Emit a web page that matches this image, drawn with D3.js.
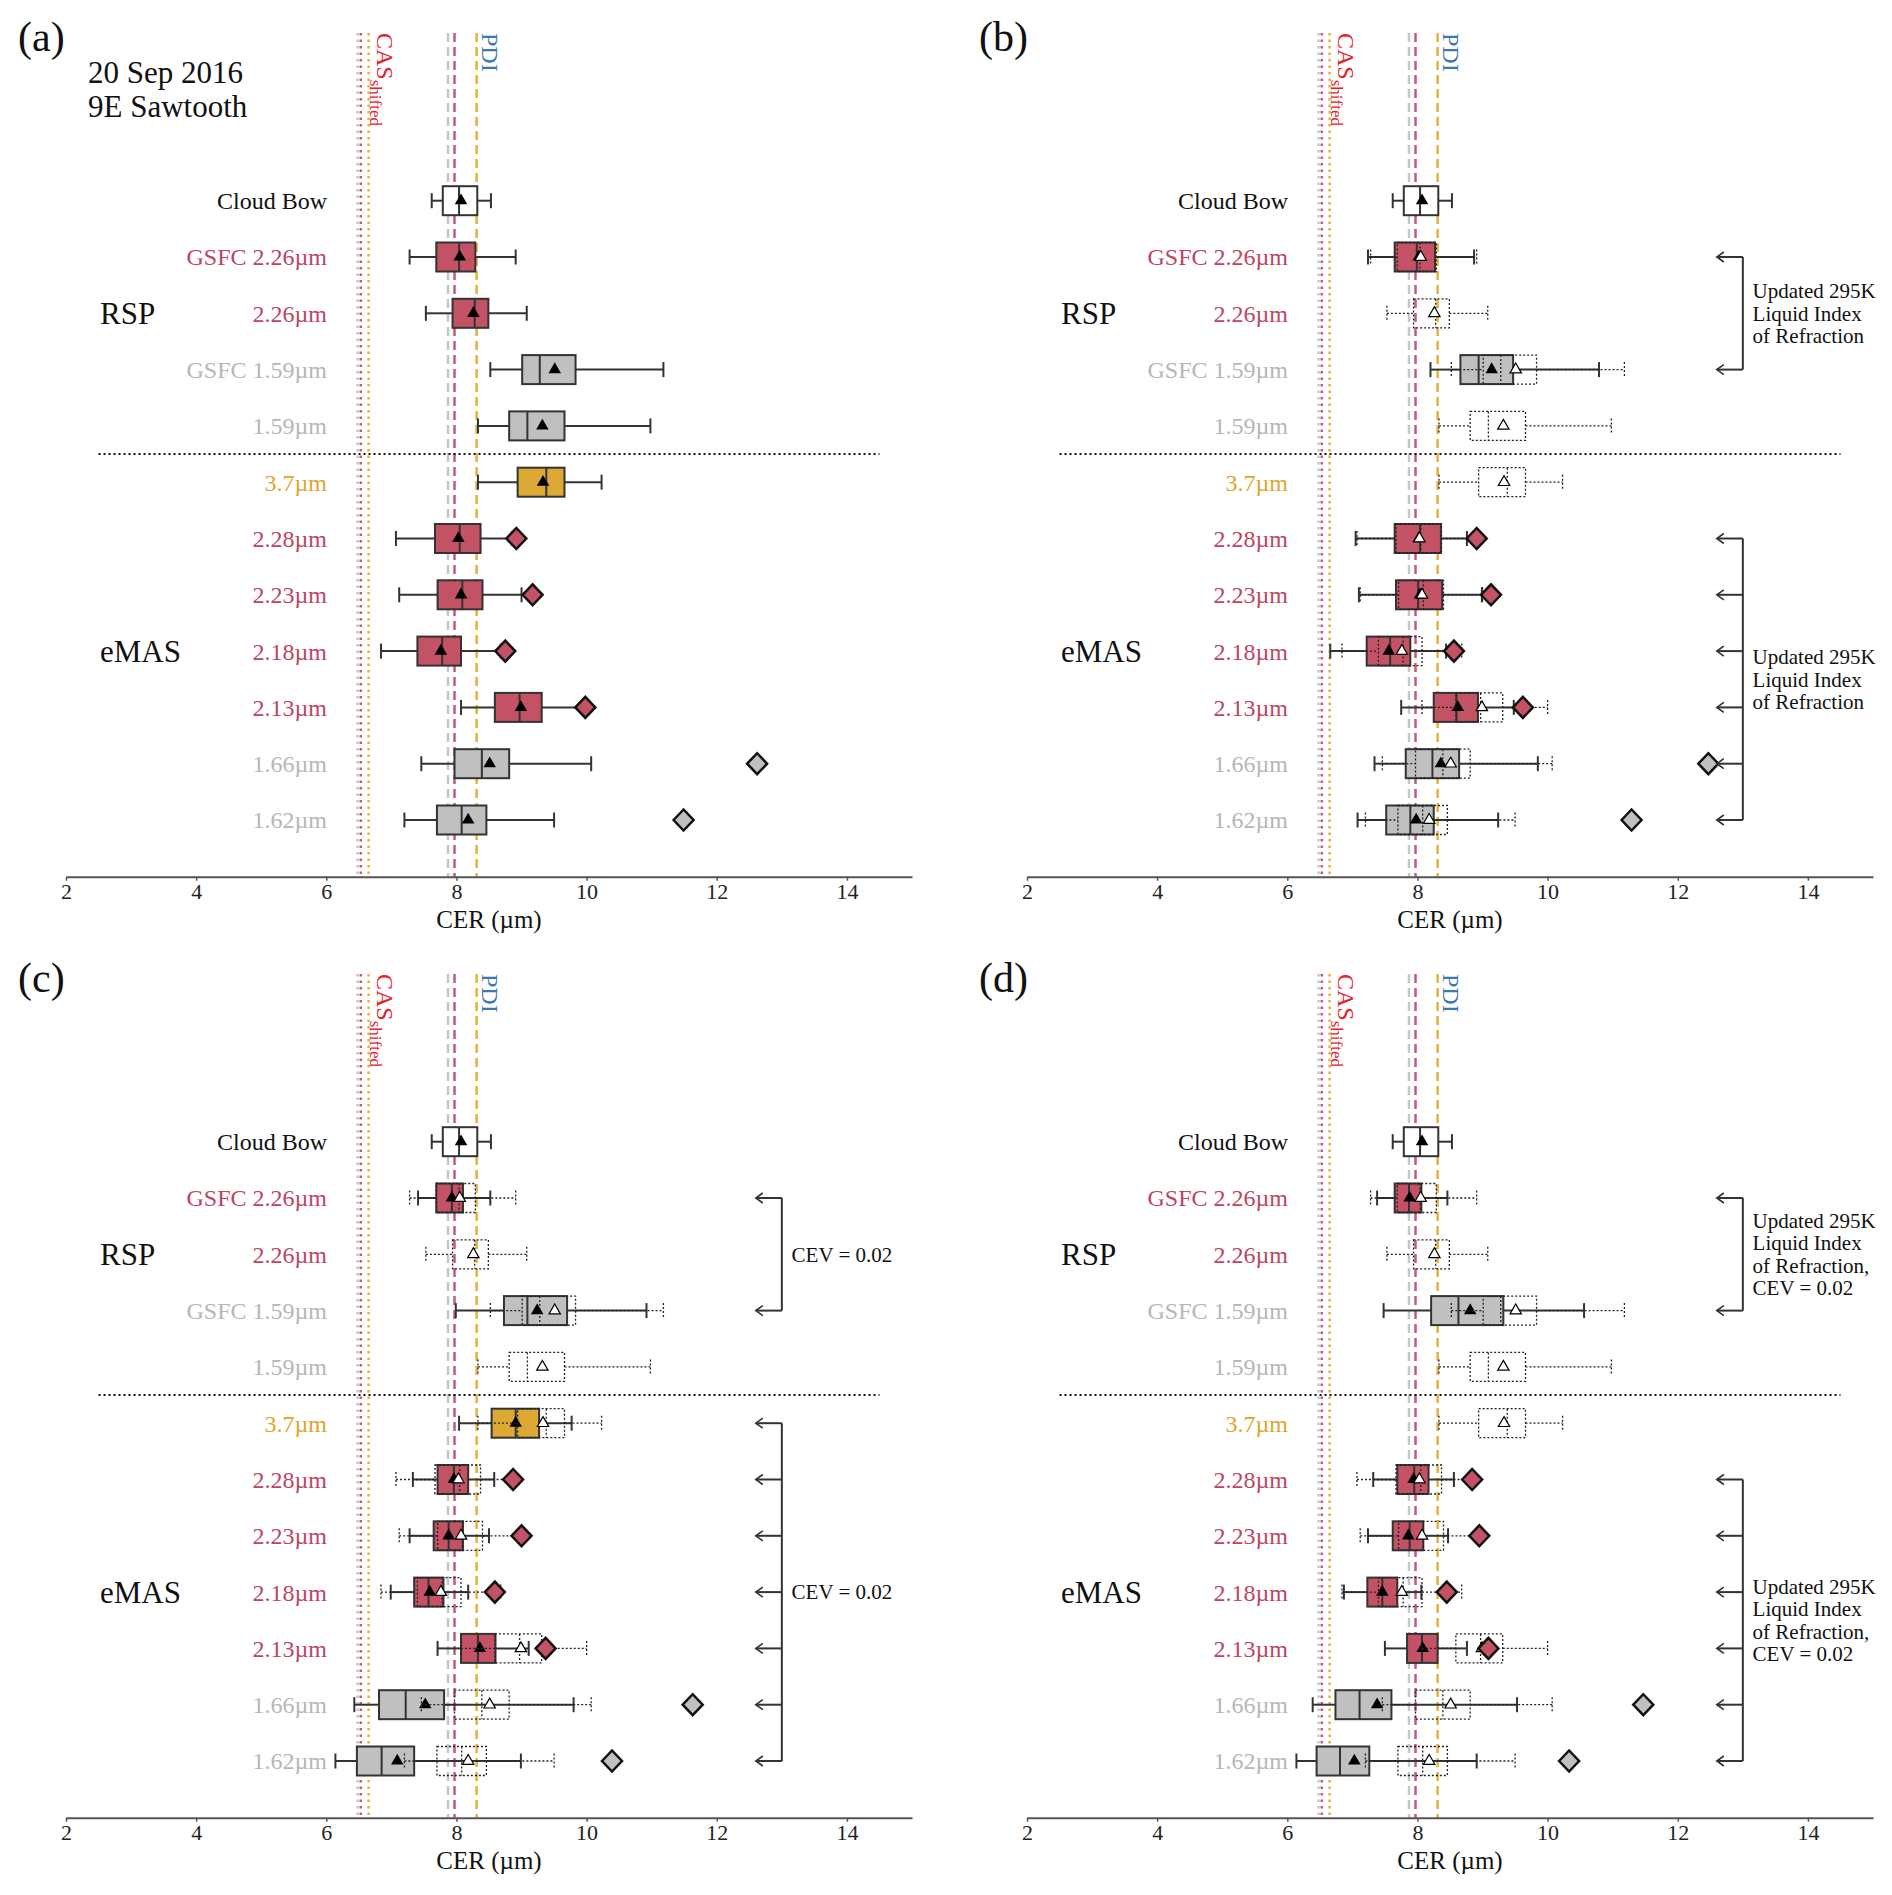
<!DOCTYPE html>
<html>
<head>
<meta charset="utf-8">
<script src="https://cdn.jsdelivr.net/npm/d3@7"></script>
<style>
  body { margin: 0; background: #fff; }
  text { font-family: "Liberation Serif", "Times New Roman", serif; }
</style>
</head>
<body>
<svg id="chart" width="1892" height="1895"></svg>
<script>
// rows, top to bottom
const rowLabels = ["Cloud Bow", "GSFC 2.26µm", "2.26µm", "GSFC 1.59µm", "1.59µm", "3.7µm",
  "2.28µm", "2.23µm", "2.18µm", "2.13µm", "1.66µm", "1.62µm"];
const rowKind = ["cb", "red", "red", "gray", "gray", "orange",
  "red", "red", "red", "red", "gray", "gray"];
const groupLabels = [{name: "RSP", row: 2}, {name: "eMAS", row: 8}];
const xTicks = [2, 4, 6, 8, 10, 12, 14];

// reference lines (CER, µm): gray / red / orange
const casLines = [6.48, 6.53, 6.65];
const pdiLines = [7.87, 7.97, 8.31];
const lineKinds = ["gray", "red", "orange"];

// [whisker low, q1, median, q3, whisker high, mean]
const statsA = [
  [7.62, 7.79, 8.04, 8.32, 8.53, 8.07],
  [7.28, 7.69, 8.04, 8.29, 8.91, 8.05],
  [7.53, 7.94, 8.28, 8.49, 9.08, 8.26],
  [8.52, 9.01, 9.28, 9.83, 11.18, 9.51],
  [8.33, 8.81, 9.09, 9.66, 10.98, 9.32],
  [8.33, 8.94, 9.38, 9.66, 10.23, 9.33],
  [7.07, 7.67, 8.05, 8.37, 8.85, 8.03],
  [7.12, 7.71, 8.09, 8.40, 9.00, 8.07],
  [6.84, 7.40, 7.78, 8.07, 8.68, 7.76],
  [8.07, 8.59, 8.97, 9.31, 10.00, 8.99],
  [7.46, 7.97, 8.39, 8.81, 10.07, 8.51],
  [7.20, 7.70, 8.08, 8.46, 9.50, 8.18]
];
const diamondsA = [null, null, null, null, null, null, 8.92, 9.17, 8.75, 9.98, 12.62, 11.49];

const statsB = [
  [7.62, 7.79, 8.04, 8.32, 8.53, 8.07],
  [7.24, 7.65, 7.99, 8.27, 8.87, 8.02],
  null,
  [8.20, 8.66, 8.94, 9.47, 10.79, 9.14],
  null,
  null,
  [7.05, 7.65, 8.04, 8.36, 8.76, 8.02],
  [7.10, 7.67, 8.01, 8.38, 8.99, 8.04],
  [6.66, 7.22, 7.58, 7.89, 8.44, 7.56],
  [7.75, 8.25, 8.60, 8.93, 9.48, 8.62],
  [7.34, 7.82, 8.23, 8.64, 9.85, 8.36],
  [7.08, 7.52, 7.89, 8.25, 9.24, 7.98]
];
const diamondsB = [null, null, null, null, null, null, 8.91, 9.13, 8.56, 9.62, 12.47, 11.29];

const statsC = [
  [7.62, 7.79, 8.04, 8.32, 8.53, 8.07],
  [7.41, 7.69, 7.93, 8.10, 8.52, 7.93],
  null,
  [7.99, 8.73, 9.09, 9.70, 10.92, 9.24],
  null,
  [8.04, 8.54, 8.91, 9.27, 9.77, 8.91],
  [7.33, 7.71, 7.96, 8.18, 8.58, 7.96],
  [7.28, 7.65, 7.88, 8.10, 8.50, 7.88],
  [6.99, 7.35, 7.57, 7.80, 8.18, 7.59],
  [7.71, 8.07, 8.33, 8.60, 9.11, 8.36],
  [6.43, 6.81, 7.22, 7.81, 9.80, 7.52],
  [6.14, 6.47, 6.85, 7.35, 8.99, 7.09]
];
const diamondsC = [null, null, null, null, null, null, 8.87, 9.00, 8.59, 9.37, 11.63, 10.39];

const statsD = [
  [7.62, 7.79, 8.04, 8.32, 8.53, 8.07],
  [7.38, 7.65, 7.87, 8.06, 8.46, 7.88],
  null,
  [7.48, 8.21, 8.63, 9.32, 10.56, 8.81],
  null,
  null,
  [7.32, 7.69, 7.95, 8.17, 8.56, 7.94],
  [7.24, 7.62, 7.88, 8.09, 8.47, 7.86],
  [6.87, 7.23, 7.46, 7.69, 8.06, 7.46],
  [7.50, 7.84, 8.07, 8.31, 8.76, 8.08],
  [6.39, 6.74, 7.11, 7.60, 9.53, 7.38],
  [6.14, 6.45, 6.81, 7.26, 8.91, 7.03]
];
const diamondsD = [null, null, null, null, null, null, 8.84, 8.95, 8.45, 9.09, 11.47, 10.33];

// bracket annotations
const refractionText = ["Updated 295K", "Liquid Index", "of Refraction"];
const cevText = ["CEV = 0.02"];
const bothText = ["Updated 295K", "Liquid Index", "of Refraction,", "CEV = 0.02"];
const bracketsB = [{rows: [1, 3], text: refractionText}, {rows: [6, 7, 8, 9, 10, 11], text: refractionText}];
const bracketsC = [{rows: [1, 3], text: cevText}, {rows: [5, 6, 7, 8, 9, 10, 11], text: cevText}];
const bracketsD = [{rows: [1, 3], text: bothText}, {rows: [6, 7, 8, 9, 10, 11], text: bothText}];
const bracketAt = 13.0, arrowTip = 12.6, noteAt = 13.15;

const fillColor = {cb: "#ffffff", red: "#c25264", gray: "#c0c0c0", orange: "#dcaa34"};
const labelColor = {cb: "#111111", red: "#bd4560", gray: "#b6b6b6", orange: "#dfa52a"};
const lineColor = {gray: "#c6c6c6", red: "#c65a72", orange: "#e6b13c"};

const svg = d3.select("#chart");
svg.append("rect").attr("width", 1892).attr("height", 1895).attr("fill", "#fff");

const x = d3.scaleLinear().domain([2, 15]).range([66, 912]);
const y = d3.scalePoint().domain(d3.range(rowLabels.length)).range([200.7, 820]);
const axisY = 876.7, lineTop = 33;
const boxH = 29, capH = 15;

const panels = [
  {tag: "(a)", dx: 0, dy: 0, stats: statsA, diamonds: diamondsA, ghost: false, brackets: [], date: true},
  {tag: "(b)", dx: 961, dy: 0, stats: statsB, diamonds: diamondsB, ghost: true, brackets: bracketsB},
  {tag: "(c)", dx: 0, dy: 941, stats: statsC, diamonds: diamondsC, ghost: true, brackets: bracketsC},
  {tag: "(d)", dx: 961, dy: 941, stats: statsD, diamonds: diamondsD, ghost: true, brackets: bracketsD}
];

panels.forEach(p => drawPanel(p));

function drawBox(g, s, i, solid) {
  const yc = y(i);
  const [lo, q1, med, q3, hi, mean] = s;
  const stroke = solid ? "#333" : "#222";
  const sw = solid ? 2 : 1.3;
  const dash = solid ? null : "2,2";
  const b = g.append("g");

  b.selectAll("line.wh")
    .data([[lo, q1], [q3, hi]])
    .join("line")
      .attr("x1", d => x(d[0])).attr("x2", d => x(d[1]))
      .attr("y1", yc).attr("y2", yc)
      .attr("stroke", stroke).attr("stroke-width", sw).attr("stroke-dasharray", dash);
  b.selectAll("line.cap")
    .data([lo, hi])
    .join("line")
      .attr("x1", d => x(d)).attr("x2", d => x(d))
      .attr("y1", yc - capH / 2).attr("y2", yc + capH / 2)
      .attr("stroke", stroke).attr("stroke-width", sw).attr("stroke-dasharray", dash);
  b.append("rect")
    .attr("x", x(q1)).attr("y", yc - boxH / 2)
    .attr("width", x(q3) - x(q1)).attr("height", boxH)
    .attr("fill", solid ? fillColor[rowKind[i]] : "none")
    .attr("stroke", stroke).attr("stroke-width", sw).attr("stroke-dasharray", dash);
  b.append("line")
    .attr("x1", x(med)).attr("x2", x(med))
    .attr("y1", yc - boxH / 2).attr("y2", yc + boxH / 2)
    .attr("stroke", stroke).attr("stroke-width", sw).attr("stroke-dasharray", dash);
  b.append("path")
    .attr("d", d3.symbol(d3.symbolTriangle, solid ? 68 : 56)())
    .attr("transform", `translate(${x(mean)},${yc})`)
    .attr("fill", solid ? "#000" : "#fff")
    .attr("stroke", solid ? "none" : "#000")
    .attr("stroke-width", 1.2);
}

function drawPanel(p) {
  const g = svg.append("g").attr("transform", `translate(${p.dx},${p.dy})`);

  // reference lines: CAS (dotted) and PDI (dashed)
  casLines.forEach((v, k) => {
    g.append("line")
      .attr("x1", x(v)).attr("x2", x(v)).attr("y1", lineTop).attr("y2", axisY)
      .attr("stroke", lineColor[lineKinds[k]]).attr("stroke-width", 2.5)
      .attr("stroke-dasharray", "2.5,4");
  });
  pdiLines.forEach((v, k) => {
    g.append("line")
      .attr("x1", x(v)).attr("x2", x(v)).attr("y1", lineTop).attr("y2", axisY)
      .attr("stroke", lineColor[lineKinds[k]]).attr("stroke-width", 2.5)
      .attr("stroke-dasharray", "9,5");
  });

  const cas = g.append("text")
    .attr("transform", `translate(${x(casLines[2]) + 8},${lineTop}) rotate(90)`)
    .attr("fill", "#e4222c").attr("font-size", 24);
  cas.append("tspan").text("CAS");
  cas.append("tspan").attr("font-size", 17).attr("dy", 7).text("shifted");

  g.append("text")
    .attr("transform", `translate(${x(pdiLines[2]) + 5},${lineTop}) rotate(90)`)
    .attr("fill", "#3c78b4").attr("font-size", 24)
    .text("PDI");

  // separator between RSP and eMAS
  g.append("line")
    .attr("x1", x(2.5)).attr("x2", x(14.5))
    .attr("y1", (y(4) + y(5)) / 2).attr("y2", (y(4) + y(5)) / 2)
    .attr("stroke", "#111").attr("stroke-width", 2).attr("stroke-dasharray", "2,3");

  // panel tag and date
  g.append("text").attr("x", 18).attr("y", 51).attr("font-size", 42).attr("fill", "#111").text(p.tag);
  if (p.date) {
    g.append("text").attr("x", 88).attr("y", 83).attr("font-size", 31).attr("fill", "#111").text("20 Sep 2016");
    g.append("text").attr("x", 88).attr("y", 117).attr("font-size", 31).attr("fill", "#111").text("9E Sawtooth");
  }

  // row labels
  g.selectAll("text.row")
    .data(rowLabels)
    .join("text")
      .attr("x", 327).attr("y", (d, i) => y(i)).attr("dy", "0.35em")
      .attr("text-anchor", "end").attr("font-size", 24)
      .attr("fill", (d, i) => labelColor[rowKind[i]])
      .text(d => d);
  g.selectAll("text.grp")
    .data(groupLabels)
    .join("text")
      .attr("x", 100).attr("y", d => y(d.row)).attr("dy", "0.35em")
      .attr("font-size", 31).attr("fill", "#111")
      .text(d => d.name);

  // boxes
  p.stats.forEach((s, i) => { if (s) drawBox(g, s, i, true); });
  if (p.ghost) {
    statsA.forEach((s, i) => { if (i > 0) drawBox(g, s, i, false); });
  }

  // diamonds
  p.diamonds.forEach((v, i) => {
    if (v == null) return;
    const cx = x(v), cy = y(i);
    g.append("path")
      .attr("d", `M${cx - 10},${cy}L${cx},${cy - 10.5}L${cx + 10},${cy}L${cx},${cy + 10.5}Z`)
      .attr("fill", fillColor[rowKind[i]])
      .attr("stroke", "#111").attr("stroke-width", 2.5);
  });

  // brackets with arrows
  p.brackets.forEach(br => {
    const y0 = y(br.rows[0]), y1 = y(br.rows[br.rows.length - 1]);
    g.append("line")
      .attr("x1", x(bracketAt)).attr("x2", x(bracketAt)).attr("y1", y0).attr("y2", y1)
      .attr("stroke", "#333").attr("stroke-width", 2);
    br.rows.forEach(r => {
      const yr = y(r), xt = x(arrowTip);
      g.append("line")
        .attr("x1", x(bracketAt)).attr("x2", xt).attr("y1", yr).attr("y2", yr)
        .attr("stroke", "#333").attr("stroke-width", 2);
      g.append("path")
        .attr("d", `M${xt + 7},${yr - 5}L${xt},${yr}L${xt + 7},${yr + 5}`)
        .attr("fill", "none").attr("stroke", "#333").attr("stroke-width", 1.6);
    });
    const mid = (y0 + y1) / 2, lh = 22.5;
    const t = g.append("text").attr("font-size", 21).attr("fill", "#111");
    br.text.forEach((line, k) => {
      t.append("tspan")
        .attr("x", x(noteAt))
        .attr("y", mid + (k - (br.text.length - 1) / 2) * lh)
        .attr("dy", "0.35em")
        .text(line);
    });
  });

  // x axis
  const ax = g.append("g")
    .attr("transform", `translate(0,${axisY})`)
    .call(d3.axisBottom(x).tickValues(xTicks).tickSize(4).tickSizeOuter(0).tickPadding(3));
  ax.attr("font-family", null).attr("font-size", null);
  ax.select(".domain").attr("stroke", "#555").attr("stroke-width", 2);
  ax.selectAll(".tick line").attr("stroke", "#555").attr("stroke-width", 1.5);
  ax.selectAll(".tick text").attr("font-size", 22).attr("fill", "#222");

  g.append("text")
    .attr("x", x(8.5)).attr("y", 928)
    .attr("text-anchor", "middle").attr("font-size", 25).attr("fill", "#111")
    .text("CER (µm)");
}
</script>
</body>
</html>
